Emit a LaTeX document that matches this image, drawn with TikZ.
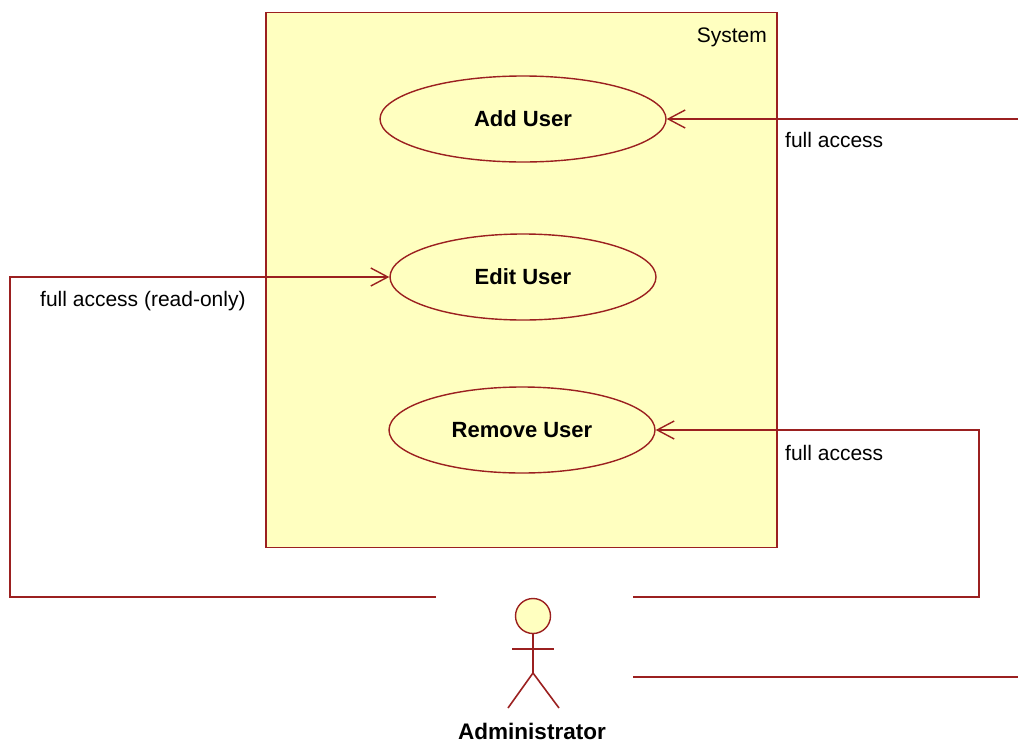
\documentclass[tikz,border=0pt]{standalone}
\usepackage{fontspec}
\setmainfont{Liberation Sans}
\usetikzlibrary{shapes.geometric,arrows.meta}
\definecolor{umlred}{RGB}{155,32,32}
\definecolor{umlfill}{RGB}{255,255,192}
\tikzset{
  usecase/.style={ellipse,draw=umlred,line width=1.4pt,fill=umlfill,inner sep=0pt,
    font=\fontsize{22}{26}\selectfont\bfseries},
  assoc/.style={draw=umlred,line width=1.6pt},
  navarrow/.style={assoc,-{Straight Barb[length=17pt,width=18pt,line width=1.4pt]}},
  lbl/.style={font=\fontsize{21}{25}\selectfont,inner sep=0pt,anchor=base west},
  actorline/.style={draw=umlred,line width=1.6pt}
}
\begin{document}
\begin{tikzpicture}[x=1pt,y=-1pt]
\useasboundingbox (0,0) rectangle (1018,742);
% system boundary
\node[draw=umlred,line width=1.8pt,fill=umlfill,minimum width=511pt,minimum height=535pt,inner sep=0pt] (system) at (521.5,280) {};
\node[lbl,anchor=base east] (systemlbl) at (767,42) {System};
% use cases
\node[usecase,minimum width=286pt,minimum height=86pt] (add) at (523,119) {Add User};
\node[usecase,minimum width=266pt,minimum height=86pt] (edit) at (523,277) {Edit User};
\node[usecase,minimum width=266pt,minimum height=86pt] (remove) at (522,430) {Remove User};
% actor
\node[circle,draw=umlred,line width=1.4pt,fill=umlfill,minimum size=35pt,inner sep=0pt] (head) at (533,616) {};
\coordinate (hip) at (533,673);
\draw[actorline] (head.south) -- (hip);
\draw[actorline] (512,649) -- (554,649);
\draw[actorline] (508,708) -- (hip) -- (559,708);
\node[font=\fontsize{22.5}{26}\selectfont\bfseries,inner sep=0pt,anchor=base] (admin) at (532,739) {Administrator};
% connector ends
\coordinate (aL1) at (436,597);
\coordinate (aR1) at (633,597);
\coordinate (aR2) at (633,677);
\coordinate (r1) at (1018,119);
\coordinate (r2) at (1018,677);
% connectors
\draw[navarrow] (r1) -- (add.east);
\draw[navarrow] (aL1) -- ++(-426,0) |- (edit.west);
\draw[navarrow] (aR1) -- ++(346,0) |- (remove.east);
\draw[assoc] (aR2) -- (r2);
% labels
\node[lbl] (l1) at (785,147) {full access};
\node[lbl] (l2) at (40,306) {full access (read-only)};
\node[lbl] (l3) at (785,460) {full access};
\end{tikzpicture}
\end{document}
